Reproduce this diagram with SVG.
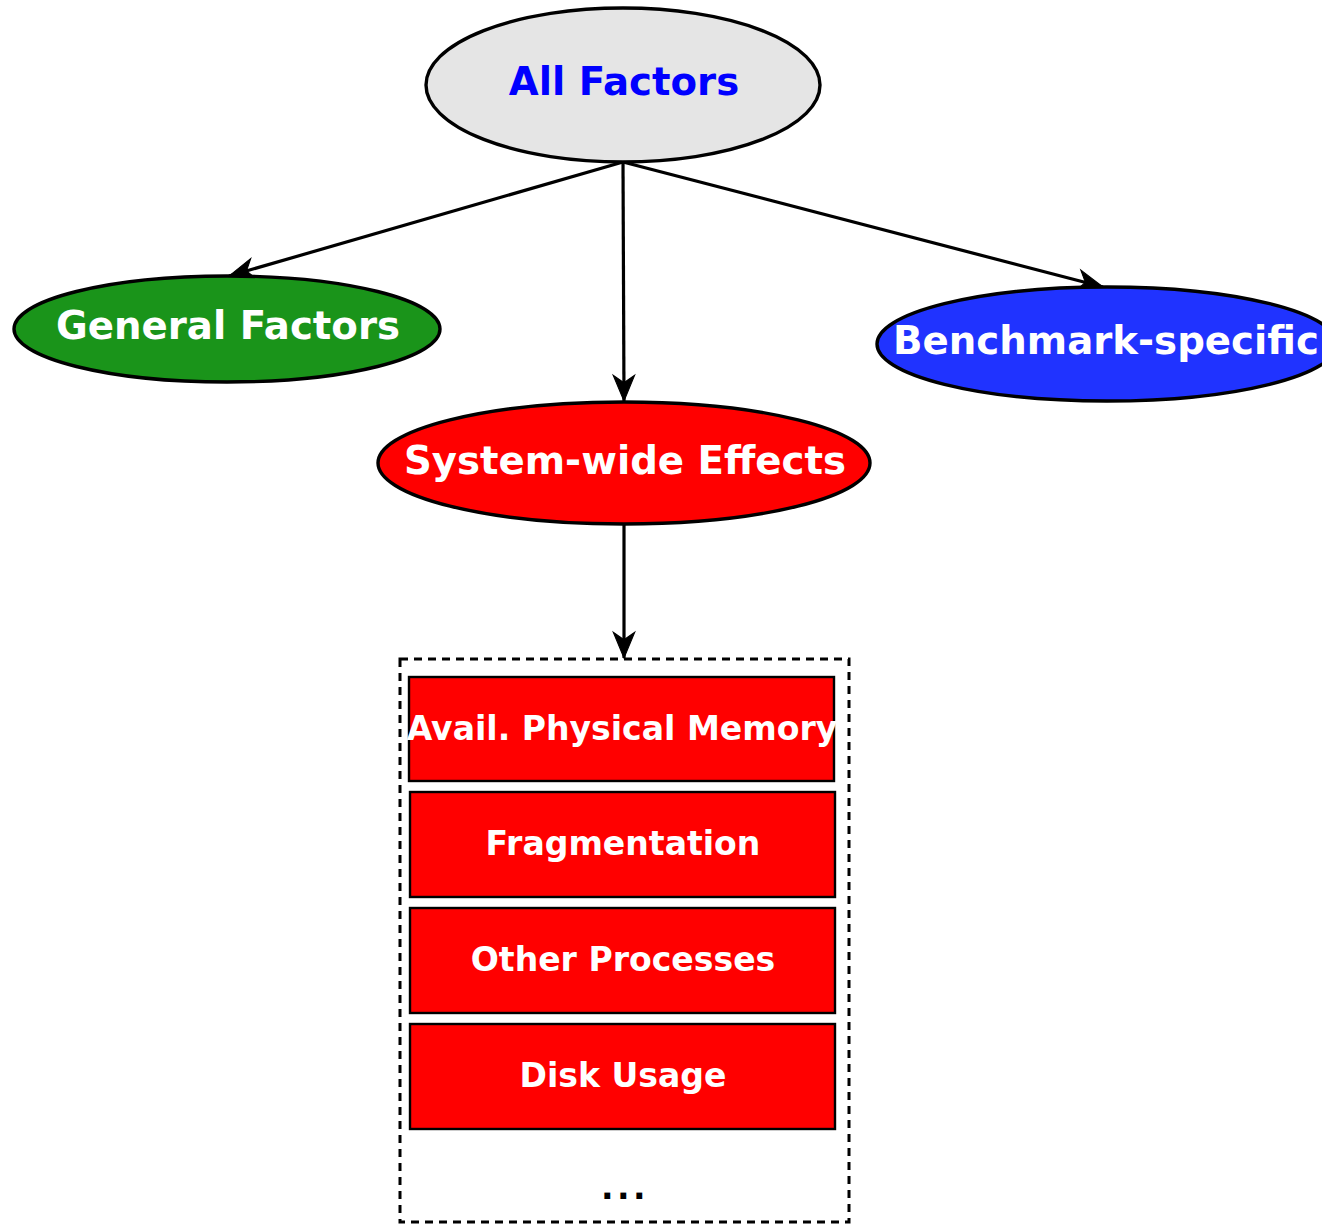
<svg xmlns="http://www.w3.org/2000/svg" width="1322" height="1225" viewBox="0 0 1322 1225">
  <style>
    .node ellipse { stroke: #000; stroke-width: 3.4; }
    .lbl { font-family: "DejaVu Sans", "Liberation Sans", sans-serif; font-weight: bold; text-anchor: middle; }
    .big { font-size: 38.7px; }
    .small { font-size: 33.1px; fill: #fff; }
    .box rect { fill: #ff0000; stroke: #000; stroke-width: 2.4; }
    .edge { stroke: #000; stroke-width: 3.2; fill: none; marker-end: url(#arrow); }
  </style>
  <defs>
    <marker id="arrow" markerUnits="userSpaceOnUse" markerWidth="30" markerHeight="30" viewBox="-26 -12 28 24" refX="0" refY="0" orient="auto">
      <path d="M0,0 L-24,-10 L-17,0 L-24,10 Z" fill="#000" stroke="#000" stroke-width="1"/>
    </marker>
  </defs>
  <rect width="1322" height="1225" fill="#fff"/>

  <g id="connectors">
    <line class="edge" x1="623" y1="162" x2="229" y2="276"/>
    <line class="edge" x1="623" y1="162" x2="624" y2="401"/>
    <line class="edge" x1="623" y1="162" x2="1103" y2="287"/>
    <line class="edge" x1="624" y1="524" x2="624" y2="658"/>
  </g>

  <g id="all-factors" class="node">
    <ellipse cx="623" cy="85" rx="197" ry="77" fill="#e5e5e5"/>
    <text class="lbl big" x="624" y="95" fill="#0000ff">All Factors</text>
  </g>

  <g id="general-factors" class="node">
    <ellipse cx="227" cy="329" rx="213" ry="53" fill="#1a941a"/>
    <text class="lbl big" x="228" y="339" fill="#fff">General Factors</text>
  </g>

  <g id="benchmark-specific" class="node">
    <ellipse cx="1107" cy="344" rx="230" ry="57" fill="#2033ff"/>
    <text class="lbl big" x="1106" y="354" fill="#fff">Benchmark-specific</text>
  </g>

  <g id="system-wide" class="node">
    <ellipse cx="624" cy="463" rx="246" ry="61" fill="#ff0000"/>
    <text class="lbl big" x="625" y="474" fill="#fff">System-wide Effects</text>
  </g>

  <g id="system-effects-list">
    <rect x="400" y="659" width="449" height="563" fill="none" stroke="#000" stroke-width="3" stroke-dasharray="8,6"/>
    <g id="avail-memory" class="box">
      <rect x="409" y="677" width="425" height="104"/>
      <text class="lbl small" x="622" y="740">Avail. Physical Memory</text>
    </g>
    <g id="fragmentation" class="box">
      <rect x="410" y="792" width="425" height="105"/>
      <text class="lbl small" x="623" y="855">Fragmentation</text>
    </g>
    <g id="other-processes" class="box">
      <rect x="410" y="908" width="425" height="105"/>
      <text class="lbl small" x="623" y="971">Other Processes</text>
    </g>
    <g id="disk-usage" class="box">
      <rect x="410" y="1024" width="425" height="105"/>
      <text class="lbl small" x="623" y="1087">Disk Usage</text>
    </g>
    <text class="lbl" x="601" y="1199" fill="#000" style="text-anchor:start;font-size:33px;letter-spacing:3.5px">...</text>
  </g>
</svg>
